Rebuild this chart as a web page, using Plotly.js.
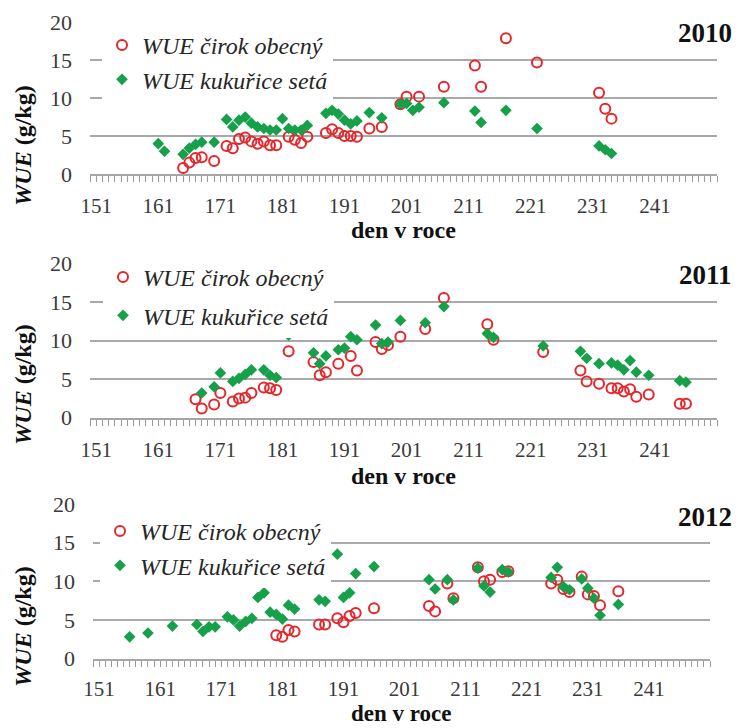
<!DOCTYPE html>
<html>
<head>
<meta charset="utf-8">
<script src="https://cdn.plot.ly/plotly-3.0.1.min.js"></script>
<style>
  html, body { margin: 0; padding: 0; background: #ffffff; }
  #chart { width: 739px; height: 728px; }
</style>
</head>
<body>
<div id="chart"></div>
<script>
// Series names
const nameCirok = 'WUE čirok obecný';
const nameKukurice = 'WUE kukuřice setá';

// Year labels
const years = ['2010', '2011', '2012'];

// X tick labels (day of year)
const dayTicks = [151, 161, 171, 181, 191, 201, 211, 221, 231, 241];
// Y tick labels
const wueTicks = [0, 5, 10, 15, 20];

// 2010 – sorghum
const days2010Cirok = [165,166,167,168,170,172,173,174,175,176,177,178,179,180,182,183,184,185,188,189,190,191,192,193,195,197,200,201,203,207,212,213,217,222,232,233,234];
const wue2010Cirok  = [0.8,1.5,2.1,2.2,1.7,3.7,3.4,4.6,4.8,4.3,4.0,4.3,3.8,3.8,4.9,4.5,4.1,4.9,5.4,5.9,5.4,5.0,5.0,4.9,6.0,6.2,9.2,10.2,10.2,11.5,14.3,11.5,17.9,14.7,10.7,8.6,7.3];
// 2010 – maize
const days2010Kukurice = [161,162,165,166,167,168,170,172,173,174,175,176,177,178,179,180,181,182,183,184,185,188,189,190,191,192,193,195,197,200,201,202,203,207,212,213,217,222,232,233,234];
const wue2010Kukurice  = [4.0,3.0,2.6,3.4,3.9,4.2,4.2,7.2,6.2,7.1,7.5,6.7,6.2,6.0,5.8,5.8,7.3,6.0,5.8,5.8,6.4,8.0,8.4,7.9,7.1,6.6,7.0,8.1,7.4,9.2,9.3,8.4,8.8,9.4,8.3,6.8,8.4,6.0,3.7,3.2,2.7];

// 2011 – sorghum
const days2011Cirok = [167,168,170,171,173,174,175,176,178,179,180,182,186,187,188,190,192,193,196,197,198,200,204,207,214,215,223,229,230,232,234,235,236,237,238,240,245,246];
const wue2011Cirok  = [2.4,1.2,1.7,3.2,2.1,2.5,2.6,3.2,3.9,3.8,3.6,8.6,7.2,5.5,5.9,7.0,8.0,6.1,9.8,8.9,9.4,10.5,11.5,15.5,12.1,10.1,8.5,6.1,4.7,4.4,3.8,3.8,3.4,3.7,2.7,3.0,1.8,1.8];
// 2011 – maize
const days2011Kukurice = [168,170,171,173,174,175,176,178,179,180,182,186,187,188,190,191,192,193,196,197,198,200,204,207,214,215,223,229,230,232,234,235,236,237,238,240,245,246];
const wue2011Kukurice  = [3.2,4.0,5.8,4.7,5.1,5.6,6.2,6.2,5.5,5.2,10.7,8.4,7.0,8.0,8.8,9.0,10.5,10.1,12.0,9.6,9.8,12.6,12.3,14.4,10.9,10.4,9.3,8.6,7.7,7.0,7.1,6.8,6.2,7.4,5.9,5.5,4.8,4.6];

// 2012 – sorghum
const days2012Cirok = [180,181,182,183,187,188,190,191,192,193,196,205,206,208,209,213,214,215,217,218,225,226,227,228,230,231,232,233,236];
const wue2012Cirok  = [3.0,2.8,3.7,3.5,4.4,4.4,5.2,4.7,5.5,5.9,6.5,6.8,6.1,9.7,7.8,11.8,10.0,10.2,11.2,11.3,9.7,10.2,9.0,8.6,10.6,8.3,8.1,6.9,8.7];
// 2012 – maize
const days2012Kukurice = [156,159,163,167,168,169,170,172,173,174,175,176,177,178,179,180,181,182,183,187,188,190,191,192,193,196,205,206,208,209,213,214,215,217,218,225,226,227,228,230,231,232,233,236];
const wue2012Kukurice  = [2.8,3.3,4.2,4.4,3.5,4.1,4.1,5.4,5.0,4.2,4.8,5.2,7.9,8.5,6.0,5.7,5.1,6.9,6.4,7.6,7.4,13.5,7.9,8.5,11.0,11.9,10.2,9.0,10.2,7.6,11.7,9.4,8.6,11.5,11.2,10.5,11.8,9.3,8.9,10.3,9.1,7.8,5.6,7.0];

const W = 739, H = 728;
const serif = '"Liberation Serif", "Times New Roman", serif';
const red = '#e5262b';
const green = '#17a04a';
const gridGray = '#a9a9a9';

// Panel geometry in pixels: [left, right, top, bottom]
const panels = [
  [90, 717, 22.3, 174.0],
  [90, 717, 263.3, 417.7],
  [93, 710, 504.0, 658.5]
];
const labelStandoffs = [6, 6, 4];
const yTitleCenters = [146, 385, 627];
const xTitleCenters = [230, 476, 713];
const xTitleSizes = [24, 24, 23];
const yearCenters = [33, 275, 517];
const legendTops = [23, 255, 509];
const legendLefts = [102, 103, 100];

const seriesByPanel = [
  [days2010Cirok, wue2010Cirok, days2010Kukurice, wue2010Kukurice],
  [days2011Cirok, wue2011Cirok, days2011Kukurice, wue2011Kukurice],
  [days2012Cirok, wue2012Cirok, days2012Kukurice, wue2012Kukurice]
];

const traces = [];
const layout = {
  width: W, height: H,
  margin: {l: 0, r: 0, t: 0, b: 0},
  paper_bgcolor: '#ffffff',
  plot_bgcolor: '#ffffff',
  showlegend: true,
  annotations: []
};

panels.forEach((p, i) => {
  const n = i === 0 ? '' : String(i + 1);
  const xa = 'xaxis' + n, ya = 'yaxis' + n;
  const lg = 'legend' + n;
  const [cx, cy, kx, ky] = seriesByPanel[i];

  traces.push({
    type: 'scatter', mode: 'markers', name: nameCirok,
    x: cx, y: cy, xaxis: 'x' + n, yaxis: 'y' + n, legend: lg,
    legendgroup: 'c' + i,
    marker: {symbol: 'circle-open', size: 10, color: red, line: {color: red, width: 2}},
    cliponaxis: false
  });
  traces.push({
    type: 'scatter', mode: 'markers', name: nameKukurice,
    x: kx, y: ky, xaxis: 'x' + n, yaxis: 'y' + n, legend: lg,
    legendgroup: 'k' + i,
    marker: {symbol: 'diamond', size: 9, color: green, line: {width: 0}},
    cliponaxis: false
  });

  layout[xa] = {
    domain: [p[0] / W, p[1] / W],
    anchor: 'y' + n,
    range: [150, 251],
    tickmode: 'array', tickvals: dayTicks, ticktext: dayTicks.map(String),
    ticks: 'outside', ticklen: 6, tickwidth: 1, tickcolor: '#9a9a9a',
    minor: {tickmode: 'linear', ticks: 'outside', ticklen: 6, tickwidth: 1, tickcolor: '#9a9a9a', tick0: 150, dtick: 1, showgrid: false},
    showline: true, linecolor: '#a6a6a6', linewidth: 2,
    showgrid: false, zeroline: false,
    tickfont: {family: serif, size: 21, color: '#3a3a3a'},
    ticklabelstandoff: labelStandoffs[i],
    fixedrange: true
  };
  layout[ya] = {
    domain: [1 - p[3] / H, 1 - p[2] / H],
    anchor: 'x' + n,
    range: [0, 20],
    tickmode: 'array', tickvals: wueTicks, ticktext: wueTicks.map(String),
    ticks: '', showline: false, zeroline: false,
    showgrid: true, gridcolor: gridGray, gridwidth: 2,
    tickfont: {family: serif, size: 22, color: '#3a3a3a'},
    ticklabelstandoff: 17,
    fixedrange: true
  };
  layout[lg] = {
    x: legendLefts[i] / W, y: 1 - legendTops[i] / H,
    xanchor: 'left', yanchor: 'top',
    bgcolor: '#ffffff', borderwidth: 0,
    font: {family: serif, size: 24, color: '#262626', style: 'italic'},
    traceorder: 'grouped', tracegroupgap: i === 1 ? 4 : 0,
    itemclick: false, itemdoubleclick: false
  };

  // axis titles
  layout.annotations.push({
    xref: 'paper', yref: 'paper',
    x: 23 / W, y: 1 - yTitleCenters[i] / H,
    xanchor: 'center', yanchor: 'middle',
    textangle: -90, showarrow: false,
    text: '<b><i>WUE</i> (g/kg)</b>',
    font: {family: serif, size: 24, color: '#111111'}
  });
  layout.annotations.push({
    xref: 'paper', yref: 'paper',
    x: ((p[0] + p[1]) / 2) / W, y: 1 - xTitleCenters[i] / H,
    xanchor: 'center', yanchor: 'middle',
    showarrow: false, borderpad: 0,
    text: '<b>den v roce</b>',
    font: {family: serif, size: xTitleSizes[i], color: '#111111'}
  });
  // year label
  layout.annotations.push({
    xref: 'paper', yref: 'paper',
    x: 705 / W, y: 1 - yearCenters[i] / H,
    xanchor: 'center', yanchor: 'middle',
    showarrow: false, text: '<b>' + years[i] + '</b>',
    bgcolor: '#ffffff', borderpad: 2,
    font: {family: serif, size: 27, color: '#111111'}
  });
});

Plotly.newPlot('chart', traces, layout, {staticPlot: true, displayModeBar: false});
</script>
</body>
</html>
